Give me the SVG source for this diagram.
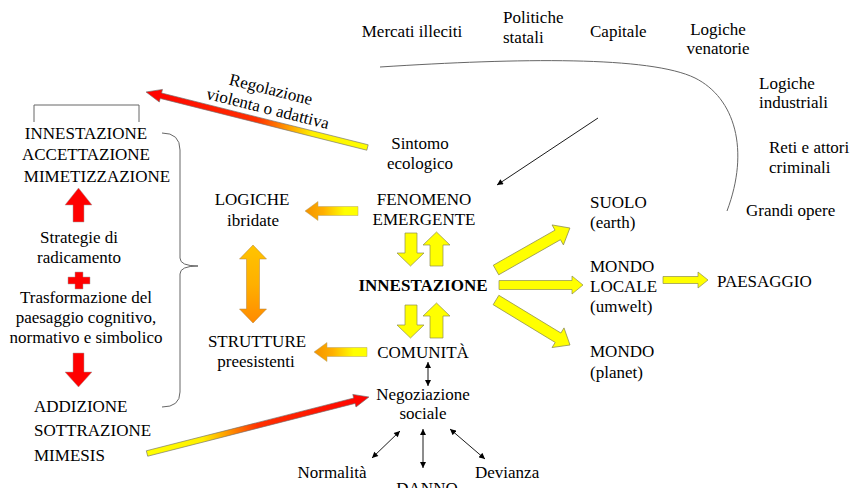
<svg xmlns="http://www.w3.org/2000/svg" width="850" height="488" viewBox="0 0 850 488">
<style>
text{font-family:'Liberation Serif','DejaVu Serif',serif;font-size:17px;fill:#000}
.m{text-anchor:middle}
.b{font-weight:bold}
.yel{fill:#FFFF00;stroke:#8C8C50;stroke-width:0.7}
.red{fill:#FF0000;stroke:#A0A0A0;stroke-width:0.5}
.thin{fill:none;stroke:#000;stroke-width:0.9}
.gray{fill:none;stroke:#666;stroke-width:1}
</style>
<defs>
<marker id="ah" viewBox="0 0 10 10" refX="10" refY="5" markerWidth="7" markerHeight="6" orient="auto-start-reverse" markerUnits="userSpaceOnUse"><path d="M0,0 L10,5 L0,10 z" fill="#000"/></marker>
<linearGradient id="og" x1="0" y1="0" x2="1" y2="0"><stop offset="0" stop-color="#F39200"/><stop offset="0.35" stop-color="#FFB000"/><stop offset="0.75" stop-color="#FFFF00"/><stop offset="1" stop-color="#FFFF00"/></linearGradient>
<linearGradient id="ov" x1="0" y1="0" x2="0" y2="1"><stop offset="0" stop-color="#FFC400"/><stop offset="0.5" stop-color="#FFB000"/><stop offset="1" stop-color="#FF8A00"/></linearGradient>
<linearGradient id="ry" x1="0" y1="0" x2="1" y2="0"><stop offset="0" stop-color="#FFFF00"/><stop offset="0.25" stop-color="#FFF000"/><stop offset="0.5" stop-color="#FF3000"/><stop offset="1" stop-color="#FF0000"/></linearGradient>
</defs>

<g id="connectors">
<path class="gray" d="M380,67 C520,58 650,56 695,78 C735,98 750,150 727,211"/>
<line class="thin" x1="598" y1="118" x2="497" y2="185" marker-end="url(#ah)"/>
<line class="thin" x1="428" y1="362" x2="428" y2="386" marker-start="url(#ah)" marker-end="url(#ah)"/>
<line class="thin" x1="400" y1="431" x2="372" y2="458" marker-start="url(#ah)" marker-end="url(#ah)"/>
<line class="thin" x1="423" y1="429" x2="423" y2="468" marker-start="url(#ah)" marker-end="url(#ah)"/>
<line class="thin" x1="450" y1="429" x2="485" y2="459" marker-start="url(#ah)" marker-end="url(#ah)"/>
<path class="gray" d="M34,122 L34,105 L139,105 L139,122"/>
<path class="gray" d="M162,133 Q180,133 180,150 L180,258 Q180,266 198,266 Q180,266 180,274 L180,392 Q180,407 162,407"/>
<polygon class="yel" points="405,233 417,233 417,253 424,253 410.5,266 397,253 405,253"/>
<polygon class="yel" points="436.5,232 450,245 443,245 443,266 430,266 430,245 423,245"/>
<polygon class="yel" points="405,305 417,305 417,325 424,325 410.5,338 397,325 405,325"/>
<polygon class="yel" points="436.5,303 450,316 443,316 443,338 430,338 430,316 423,316"/>
<polygon class="yel" transform="translate(496,270) rotate(-29.6)" points="0,-5.5 71,-5.5 71,-11.5 85,0 71,11.5 71,5.5 0,5.5"/>
<polygon class="yel" transform="translate(499,285)" points="0,-4.5 73,-4.5 73,-9 84,0 73,9 73,4.5 0,4.5"/>
<polygon class="yel" transform="translate(496,300) rotate(31.3)" points="0,-5.5 72.6,-5.5 72.6,-11.5 86.6,0 72.6,11.5 72.6,5.5 0,5.5"/>
<polygon class="yel" transform="translate(663,280)" points="0,-3.5 35,-3.5 35,-8 45,0 35,8 35,3.5 0,3.5"/>
<polygon fill="url(#og)" stroke="#B0A070" stroke-width="0.5" points="305,211 318,201.5 318,206.5 358,206.5 358,215.5 318,215.5 318,220.5"/>
<polygon fill="url(#og)" stroke="#B0A070" stroke-width="0.5" points="314,352 327,342.5 327,347.5 367,347.5 367,356.5 327,356.5 327,361.5"/>
<polygon fill="url(#ov)" stroke="#B08040" stroke-width="0.5" points="253,245 266.5,259 259.5,259 259.5,309 266.5,309 253,323 239.5,309 246.5,309 246.5,259 239.5,259"/>
<polygon class="red" points="78.5,188 92,205 84,205 84,222 73,222 73,205 65,205"/>
<polygon class="red" points="73,353 84,353 84,372 92,372 78.5,387 65,372 73,372"/>
<path class="red" d="M75,272 H83 V277 H90 V284 H83 V289 H75 V284 H68 V277 H75 Z"/>
<polygon fill="url(#ry)" stroke="#707070" stroke-width="0.6" transform="translate(367.5,147.5) rotate(194.07)" points="0,-2.8 213,-2.8 213,-6.5 228.3,0 213,6.5 213,2.8 0,2.8"/>
<polygon fill="url(#ry)" stroke="#707070" stroke-width="0.6" transform="translate(147,453.5) rotate(-14.28)" points="0,-2.8 214,-2.8 214,-6.5 229,0 214,6.5 214,2.8 0,2.8"/>
</g>

<g id="top-labels">
<text x="412" y="37" class="m">Mercati illeciti</text>
<text x="503" y="23">Politiche</text>
<text x="503" y="43">statali</text>
<text x="590" y="37">Capitale</text>
<text x="718" y="35" class="m">Logiche</text>
<text x="718" y="54" class="m">venatorie</text>
<text x="759" y="89">Logiche</text>
<text x="759" y="108">industriali</text>
<text x="769" y="153">Reti e attori</text>
<text x="769" y="173">criminali</text>
<text x="746" y="216">Grandi opere</text>
</g>
<g id="regolazione">
<text x="271" y="95" class="m" transform="rotate(14 271 89)">Regolazione</text>
<text x="268" y="114" class="m" transform="rotate(14 268 108)">violenta o adattiva</text>
</g>
<g id="sintomo"><text x="420" y="149" class="m">Sintomo</text><text x="420" y="169" class="m">ecologico</text></g>
<g id="fenomeno"><text x="424" y="205" class="m">FENOMENO</text><text x="424" y="225" class="m">EMERGENTE</text></g>
<g id="logiche"><text x="252" y="205" class="m">LOGICHE</text><text x="253" y="226" class="m">ibridate</text></g>
<g id="strutture"><text x="257" y="347" class="m">STRUTTURE</text><text x="256" y="367" class="m">preesistenti</text></g>
<g id="innestazione"><text x="423" y="291" class="m b">INNESTAZIONE</text></g>
<g id="comunita"><text x="423" y="358" class="m">COMUNITÀ</text></g>
<g id="negoziazione"><text x="423" y="400" class="m">Negoziazione</text><text x="423" y="419" class="m">sociale</text></g>
<g id="normalita"><text x="332" y="478" class="m">Normalità</text></g>
<g id="danno"><text x="427" y="494" class="m">DANNO</text></g>
<g id="devianza"><text x="475" y="478">Devianza</text></g>
<g id="suolo"><text x="590" y="208">SUOLO</text><text x="590" y="228">(earth)</text></g>
<g id="mondo-locale"><text x="590" y="272">MONDO</text><text x="590" y="292">LOCALE</text><text x="590" y="312">(umwelt)</text></g>
<g id="mondo-planet"><text x="590" y="357">MONDO</text><text x="590" y="378">(planet)</text></g>
<g id="paesaggio"><text x="717" y="287">PAESAGGIO</text></g>
<g id="esiti-top"><text x="86" y="139" class="m">INNESTAZIONE</text><text x="86" y="160" class="m">ACCETTAZIONE</text><text x="97" y="182" class="m">MIMETIZZAZIONE</text></g>
<g id="strategie"><text x="79" y="243" class="m">Strategie di</text><text x="79" y="263" class="m">radicamento</text></g>
<g id="trasformazione"><text x="86" y="303" class="m">Trasformazione del</text><text x="86" y="323" class="m">paesaggio cognitivo,</text><text x="86" y="343" class="m">normativo e simbolico</text></g>
<g id="esiti-bottom"><text x="34" y="412">ADDIZIONE</text><text x="34" y="436">SOTTRAZIONE</text><text x="34" y="461">MIMESIS</text></g>
</svg>
